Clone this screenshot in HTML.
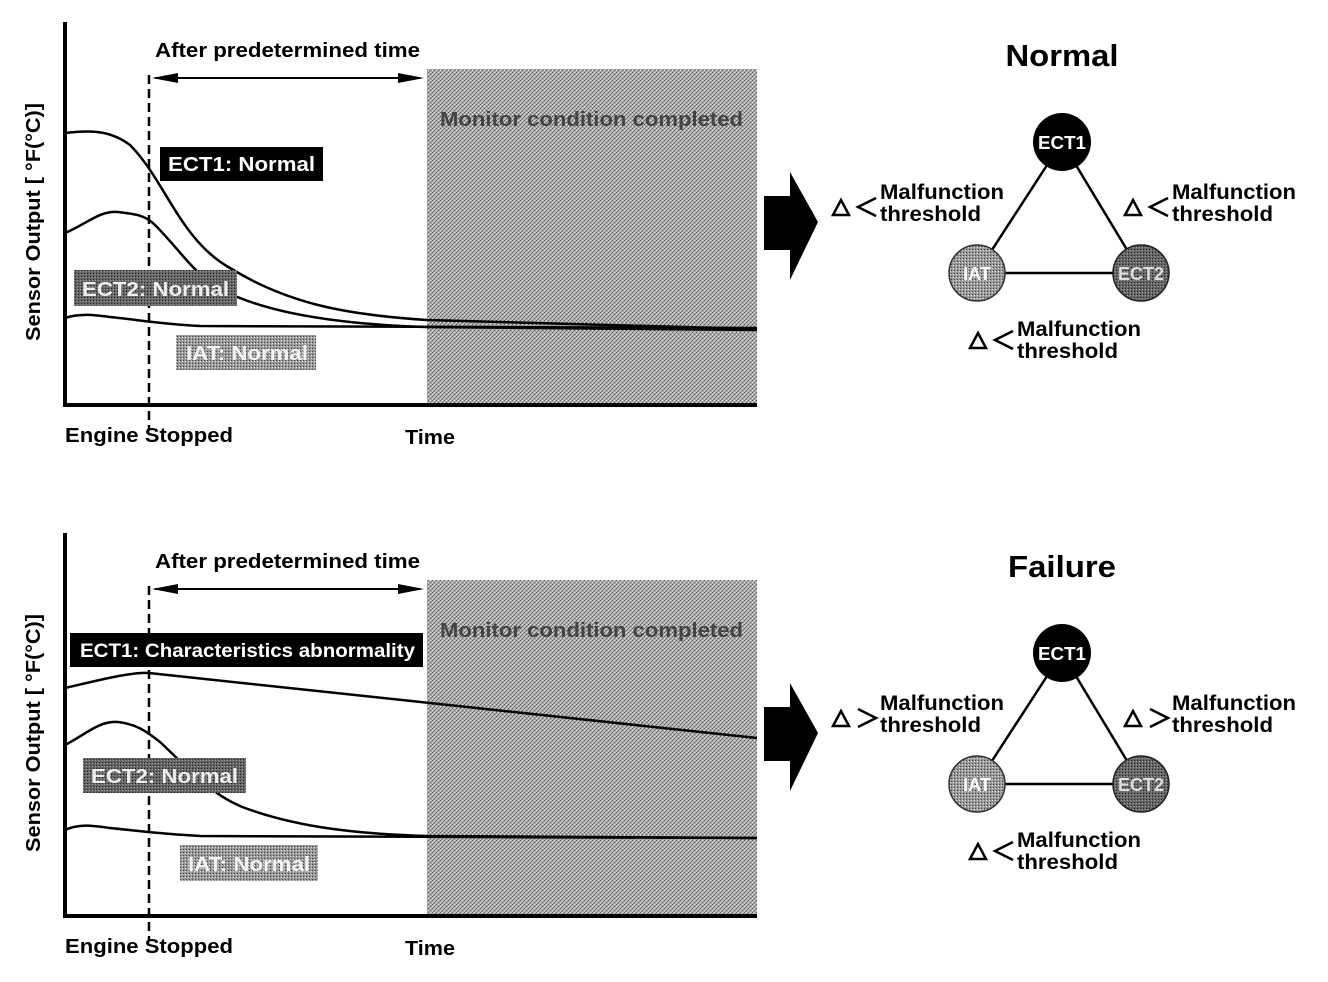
<!DOCTYPE html>
<html><head><style>
body{margin:0;background:#fff;}
svg{display:block;font-family:"Liberation Sans",sans-serif;font-weight:bold;}
</style></head><body>
<svg width="1328" height="982" viewBox="0 0 1328 982" xmlns="http://www.w3.org/2000/svg">
<defs>
<pattern id="d" width="4" height="4" patternUnits="userSpaceOnUse">
<rect width="4" height="4" fill="#b0b0b0"/><rect x="0" y="0" width="1" height="1" fill="#555"/><rect x="2" y="2" width="1" height="1" fill="#555"/><rect x="1" y="3" width="1" height="1" fill="#888"/><rect x="3" y="1" width="1" height="1" fill="#888"/><rect x="2" y="0" width="1" height="1" fill="#ddd"/><rect x="0" y="2" width="1" height="1" fill="#ddd"/>
</pattern>
<pattern id="d2" width="3" height="3" patternUnits="userSpaceOnUse">
<rect width="3" height="3" fill="#666"/><rect x="0" y="0" width="1" height="1" fill="#222"/><rect x="2" y="1" width="1" height="1" fill="#999"/>
</pattern>
<pattern id="d3" width="3" height="3" patternUnits="userSpaceOnUse">
<rect width="3" height="3" fill="#999"/><rect x="0" y="0" width="1" height="1" fill="#444"/><rect x="2" y="1" width="1" height="1" fill="#ddd"/>
</pattern>
</defs>

<g id="top">
<rect x="427" y="69" width="330" height="336" fill="url(#d)"/>
<text x="440" y="126" font-size="20" fill="#444" textLength="303" lengthAdjust="spacingAndGlyphs">Monitor condition completed</text>
<path d="M65 22 V405 H757" fill="none" stroke="#000" stroke-width="4"/>
<line x1="149" y1="75" x2="149" y2="430" stroke="#000" stroke-width="2.5" stroke-dasharray="9,5"/>
<line x1="155" y1="78" x2="420" y2="78" stroke="#000" stroke-width="2"/>
<path d="M152 78 L178 73 L178 83Z M424 78 L398 73 L398 83Z" fill="#000"/>
<text x="155" y="57" font-size="20" textLength="265" lengthAdjust="spacingAndGlyphs">After predetermined time</text>
<text transform="translate(40,222) rotate(-90)" font-size="20" text-anchor="middle" textLength="238" lengthAdjust="spacingAndGlyphs">Sensor Output [ °F(°C)]</text>
<text x="65" y="442" font-size="20" textLength="168" lengthAdjust="spacingAndGlyphs">Engine Stopped</text>
<text x="405" y="444" font-size="20" textLength="50" lengthAdjust="spacingAndGlyphs">Time</text>
<path d="M65 133 C90 130 110 130 130 145 C165 180 180 240 230 268 C290 305 350 315 427 320 L757 329" fill="none" stroke="#000" stroke-width="2.5"/>
<path d="M65 233 C85 225 100 210 118 212 C135 214 145 215 155 225 C185 255 200 285 240 298 C290 318 360 325 427 327 L757 330" fill="none" stroke="#000" stroke-width="2.5"/>
<path d="M65 318 C80 313 95 315 110 317 C140 320 160 324 200 326 L757 328" fill="none" stroke="#000" stroke-width="2.5"/>
<rect x="160" y="147" width="163" height="34" fill="#000"/>
<text x="168" y="171" font-size="20" fill="#fff" textLength="147" lengthAdjust="spacingAndGlyphs">ECT1: Normal</text>
<rect x="74" y="270" width="163" height="36" fill="url(#d2)"/>
<text x="82" y="296" font-size="20" fill="#eee" textLength="147" lengthAdjust="spacingAndGlyphs">ECT2: Normal</text>
<rect x="176" y="335" width="140" height="35" fill="url(#d3)"/>
<text x="186" y="360" font-size="20" fill="#f4f4f4" textLength="122" lengthAdjust="spacingAndGlyphs">IAT: Normal</text>
</g>

<g id="bot">
<rect x="427" y="580" width="330" height="336" fill="url(#d)"/>
<text x="440" y="637" font-size="20" fill="#444" textLength="303" lengthAdjust="spacingAndGlyphs">Monitor condition completed</text>
<path d="M65 533 V916 H757" fill="none" stroke="#000" stroke-width="4"/>
<line x1="149" y1="586" x2="149" y2="941" stroke="#000" stroke-width="2.5" stroke-dasharray="9,5"/>
<line x1="155" y1="589" x2="420" y2="589" stroke="#000" stroke-width="2"/>
<path d="M152 589 L178 584 L178 594Z M424 589 L398 584 L398 594Z" fill="#000"/>
<text x="155" y="568" font-size="20" textLength="265" lengthAdjust="spacingAndGlyphs">After predetermined time</text>
<text transform="translate(40,733) rotate(-90)" font-size="20" text-anchor="middle" textLength="238" lengthAdjust="spacingAndGlyphs">Sensor Output [ °F(°C)]</text>
<text x="65" y="953" font-size="20" textLength="168" lengthAdjust="spacingAndGlyphs">Engine Stopped</text>
<text x="405" y="955" font-size="20" textLength="50" lengthAdjust="spacingAndGlyphs">Time</text>
<path d="M65 688 C100 680 130 672 149 673 L757 738" fill="none" stroke="#000" stroke-width="2.5"/>
<path d="M65 745 C85 735 100 720 118 722 C135 724 145 730 160 742 C185 765 210 795 245 808 C300 828 360 834 427 836 L757 838" fill="none" stroke="#000" stroke-width="2.5"/>
<path d="M65 830 C80 823 95 826 110 828 C140 831 160 834 200 836 L757 838" fill="none" stroke="#000" stroke-width="2.5"/>
<rect x="70" y="633" width="353" height="34" fill="#000"/>
<text x="80" y="657" font-size="19" fill="#fff" textLength="335" lengthAdjust="spacingAndGlyphs">ECT1: Characteristics abnormality</text>
<rect x="83" y="758" width="163" height="35" fill="url(#d2)"/>
<text x="91" y="783" font-size="20" fill="#eee" textLength="147" lengthAdjust="spacingAndGlyphs">ECT2: Normal</text>
<rect x="180" y="845" width="138" height="36" fill="url(#d3)"/>
<text x="188" y="871" font-size="20" fill="#f4f4f4" textLength="122" lengthAdjust="spacingAndGlyphs">IAT: Normal</text>
</g>

<g id="r1">
<path d="M764 196 H790 V172 L818 222 L790 280 V250 H764Z" fill="#000"/>
<text x="1062" y="66" font-size="31" text-anchor="middle" textLength="113" lengthAdjust="spacingAndGlyphs">Normal</text>
<path d="M1062 142 L977 273 L1141 273Z" fill="none" stroke="#000" stroke-width="2.5"/>
<circle cx="1062" cy="142" r="29" fill="#000"/>
<text x="1062" y="149" font-size="18" fill="#fff" text-anchor="middle" textLength="48" lengthAdjust="spacingAndGlyphs">ECT1</text>
<circle cx="977" cy="273" r="28" fill="url(#d3)" stroke="#333" stroke-width="1.5"/>
<text x="977" y="280" font-size="18" fill="#fff" text-anchor="middle">IAT</text>
<circle cx="1141" cy="273" r="28" fill="url(#d2)" stroke="#222" stroke-width="1.5"/>
<text x="1141" y="280" font-size="18" fill="#ddd" text-anchor="middle">ECT2</text>
<g font-size="21">
<path d="M833 215 L841 200 L849 215Z M876 198 L858 207 L876 216 M1125 215 L1133 200 L1141 215Z M1168 198 L1150 207 L1168 216 M970 348 L978 333 L986 348Z M1013 331 L995 340 L1013 349" fill="none" stroke="#000" stroke-width="2.5"/>
<text x="880" y="199" textLength="124" lengthAdjust="spacingAndGlyphs">Malfunction</text><text x="880" y="221" textLength="101" lengthAdjust="spacingAndGlyphs">threshold</text>
<text x="1172" y="199" textLength="124" lengthAdjust="spacingAndGlyphs">Malfunction</text><text x="1172" y="221" textLength="101" lengthAdjust="spacingAndGlyphs">threshold</text>
<text x="1017" y="336" textLength="124" lengthAdjust="spacingAndGlyphs">Malfunction</text><text x="1017" y="358" textLength="101" lengthAdjust="spacingAndGlyphs">threshold</text>
</g>
</g>

<g id="r2" transform="translate(0,511)">
<path d="M764 196 H790 V172 L818 222 L790 280 V250 H764Z" fill="#000"/>
<text x="1062" y="66" font-size="31" text-anchor="middle" textLength="108" lengthAdjust="spacingAndGlyphs">Failure</text>
<path d="M1062 142 L977 273 L1141 273Z" fill="none" stroke="#000" stroke-width="2.5"/>
<circle cx="1062" cy="142" r="29" fill="#000"/>
<text x="1062" y="149" font-size="18" fill="#fff" text-anchor="middle" textLength="48" lengthAdjust="spacingAndGlyphs">ECT1</text>
<circle cx="977" cy="273" r="28" fill="url(#d3)" stroke="#333" stroke-width="1.5"/>
<text x="977" y="280" font-size="18" fill="#fff" text-anchor="middle">IAT</text>
<circle cx="1141" cy="273" r="28" fill="url(#d2)" stroke="#222" stroke-width="1.5"/>
<text x="1141" y="280" font-size="18" fill="#ddd" text-anchor="middle">ECT2</text>
<g font-size="21">
<path d="M833 215 L841 200 L849 215Z M858 198 L876 207 L858 216 M1125 215 L1133 200 L1141 215Z M1150 198 L1168 207 L1150 216 M970 348 L978 333 L986 348Z M1013 331 L995 340 L1013 349" fill="none" stroke="#000" stroke-width="2.5"/>
<text x="880" y="199" textLength="124" lengthAdjust="spacingAndGlyphs">Malfunction</text><text x="880" y="221" textLength="101" lengthAdjust="spacingAndGlyphs">threshold</text>
<text x="1172" y="199" textLength="124" lengthAdjust="spacingAndGlyphs">Malfunction</text><text x="1172" y="221" textLength="101" lengthAdjust="spacingAndGlyphs">threshold</text>
<text x="1017" y="336" textLength="124" lengthAdjust="spacingAndGlyphs">Malfunction</text><text x="1017" y="358" textLength="101" lengthAdjust="spacingAndGlyphs">threshold</text>
</g>
</g>
</svg>
</body></html>
